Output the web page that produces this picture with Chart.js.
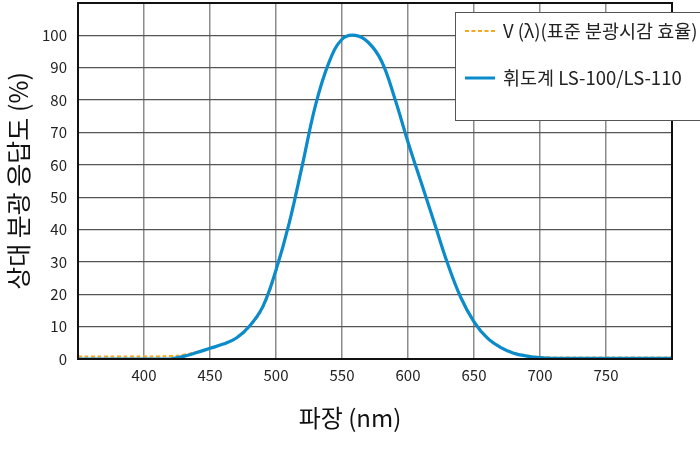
<!DOCTYPE html>
<html>
<head>
<meta charset="utf-8">
<script src="https://cdn.jsdelivr.net/npm/chart.js@4.4.1/dist/chart.umd.min.js"></script>
<style>
  html, body { margin: 0; padding: 0; background: #fff; }
  #wrap { width: 700px; height: 450px; position: relative; }
</style>
</head>
<body>
<div id="wrap"><canvas id="resp"></canvas></div>
<script>
// wavelength (nm)
const WAVELENGTHS = [350, 360, 370, 380, 390, 400, 410, 420, 430, 440, 450, 460, 470, 480, 490,
  500, 510, 520, 530, 540, 550, 560, 570, 580, 590, 600, 610, 620, 630, 640, 650, 660, 670, 680,
  690, 700, 710, 720, 730, 740, 750, 760, 770, 780, 790, 800];

// V(lambda) standard photopic efficiency (%)
const V_LAMBDA = [0.8, 0.8, 0.8, 0.8, 0.8, 0.8, 0.8, 0.9, 1.3, 2.2, 3.3, 4.6, 6.4, 10.0, 15.8,
  27.0, 42.5, 60.5, 78.5, 91.5, 98.8, 100, 97.8, 92, 80.5, 67.5, 54.5, 42, 29.5, 19.2, 11.8, 6.8, 3.8, 2.0,
  1.1, 0.6, 0.5, 0.5, 0.5, 0.5, 0.5, 0.5, 0.5, 0.5, 0.5, 0.5];

// LS-100 / LS-110 luminance meter response (%)
const LS_METER = [0, 0, 0, 0, 0, 0, 0, 0, 0.8, 2.0, 3.3, 4.6, 6.5, 10.2, 16.2,
  27.5, 42, 60, 78.5, 91.5, 98.8, 100, 97.8, 92, 80.5, 67, 54.5, 42, 29.5, 19, 11.5, 6.5, 3.6, 1.8,
  0.9, 0.4, 0.2, 0.2, 0.2, 0.2, 0.2, 0.2, 0.2, 0.2, 0.2, 0.2];

const SERIES_NAMES = ['V (λ)(표준 분광시감 효율)', '휘도계 LS-100/LS-110'];
const X_TITLE = '파장 (nm)';
const Y_TITLE = '상대 분광 응답도 (%)';
const X_HIDDEN = [350, 800];
const Y_HIDDEN = [110];

const FONT = '"Noto Sans CJK KR", "Noto Sans", sans-serif';
const ORANGE = '#f5a623';
const BLUE = '#0a8bcc';

function toPoints(ys) {
  return WAVELENGTHS.map((x, i) => ({ x: x, y: ys[i] }));
}

// frame around the plot, x title centred on the page, legend box over the corner
const framePlugin = {
  id: 'frame',
  afterDatasetsDraw(chart) {
    const a = chart.chartArea, ctx = chart.ctx;
    ctx.save();
    ctx.strokeStyle = '#111';
    ctx.lineWidth = 2;
    ctx.strokeRect(a.left, a.top, a.right - a.left, a.bottom - a.top);
    ctx.restore();
  },
  afterDraw(chart) {
    const ctx = chart.ctx;
    ctx.save();
    ctx.fillStyle = '#111';
    ctx.font = '24px ' + FONT;
    ctx.textAlign = 'center';
    ctx.textBaseline = 'middle';
    ctx.fillText(X_TITLE, 350, 418);

    ctx.textAlign = 'left';
    ctx.fillStyle = '#fff';
    ctx.fillRect(455.5, 12.5, 250, 108);
    ctx.strokeStyle = '#555';
    ctx.lineWidth = 1;
    ctx.strokeRect(455.5, 12.5, 250, 108);

    ctx.lineWidth = 2;
    ctx.strokeStyle = ORANGE;
    ctx.setLineDash([4, 2.5]);
    ctx.beginPath(); ctx.moveTo(465, 31); ctx.lineTo(495, 31); ctx.stroke();
    ctx.setLineDash([]);
    ctx.lineWidth = 3;
    ctx.strokeStyle = BLUE;
    ctx.beginPath(); ctx.moveTo(465, 78); ctx.lineTo(495, 78); ctx.stroke();

    ctx.fillStyle = '#222';
    ctx.font = '18.5px ' + FONT;
    ctx.fillText(SERIES_NAMES[0], 503, 31);
    ctx.fillText(SERIES_NAMES[1], 503, 78);
    ctx.restore();
  }
};

new Chart(document.getElementById('resp'), {
  type: 'line',
  data: {
    datasets: [
      {
        label: SERIES_NAMES[1],
        data: toPoints(LS_METER),
        borderColor: BLUE,
        borderWidth: 3.2,
        pointRadius: 0,
        tension: 0.4,
        order: 1
      },
      {
        label: SERIES_NAMES[0],
        data: toPoints(V_LAMBDA),
        borderColor: ORANGE,
        borderWidth: 2,
        borderDash: [4, 2.5],
        pointRadius: 0,
        tension: 0.4,
        order: 2
      }
    ]
  },
  options: {
    responsive: true,
    maintainAspectRatio: false,
    animation: false,
    layout: { padding: { top: 3, right: 28, bottom: 0, left: 0 } },
    plugins: { legend: { display: false }, tooltip: { enabled: false } },
    scales: {
      x: {
        type: 'linear',
        min: 350, max: 800,
        afterFit: function(s) { s.height = 91; s.paddingRight = 0; },
        border: { display: false },
        grid: { color: '#8c8c8c', lineWidth: 1.5, drawTicks: false },
        ticks: {
          stepSize: 50,
          padding: 7,
          color: '#222',
          font: { family: FONT, size: 15 },
          callback: function(v) { return X_HIDDEN.includes(v) ? '' : v; }
        }
      },
      y: {
        min: 0, max: 110,
        afterFit: function(s) { s.width = 78; s.paddingTop = 0; },
        border: { display: false },
        grid: { color: '#555', lineWidth: 1.3, drawTicks: false },
        ticks: {
          stepSize: 10,
          padding: 11,
          color: '#222',
          font: { family: FONT, size: 15 },
          callback: function(v) { return Y_HIDDEN.includes(v) ? '' : v; }
        },
        title: {
          display: true,
          text: Y_TITLE,
          color: '#111',
          font: { family: FONT, size: 25 },
          padding: { top: 3, bottom: 0 }
        }
      }
    }
  },
  plugins: [framePlugin]
});
</script>
</body>
</html>
